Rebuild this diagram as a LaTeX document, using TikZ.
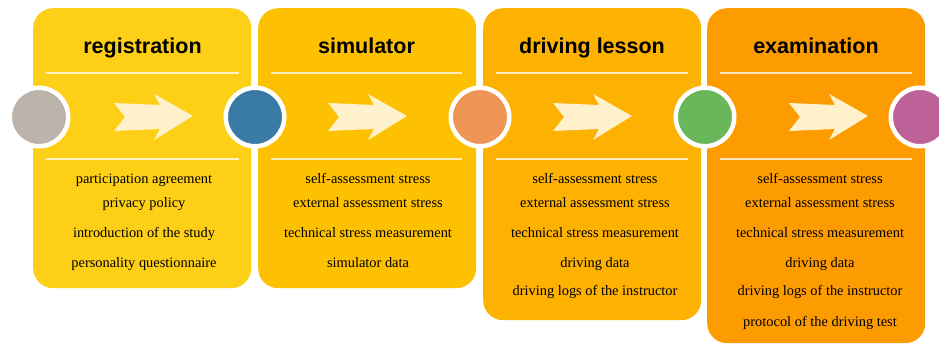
\documentclass[tikz,border=0pt]{standalone}
\usepackage{fontspec}
\setmainfont{Liberation Serif}
\setsansfont{Liberation Sans}
\definecolor{regyellow}{HTML}{FDD017}
\definecolor{simgold}{HTML}{FDC102}
\definecolor{lessonamber}{HTML}{FDB100}
\definecolor{examorange}{HTML}{FD9C00}
\definecolor{arrowcream}{HTML}{FFF1CC}
\definecolor{dotgray}{HTML}{BCB3AA}
\definecolor{dotblue}{HTML}{3A7BA6}
\definecolor{dotorange}{HTML}{EE9455}
\definecolor{dotgreen}{HTML}{6AB75B}
\definecolor{dotpurple}{HTML}{BD6299}
\begin{document}
\begin{tikzpicture}[x=1pt, y=-1pt,
  stage/.style = {rounded corners=20pt, anchor=north west, inner sep=0pt, minimum width=218pt},
  title/.style = {font=\sffamily\bfseries\fontsize{21.5}{24}\selectfont, anchor=base},
  item/.style = {font=\fontsize{14.4}{16}\selectfont, anchor=base},
  rule/.style = {draw=white, opacity=0.75, line width=1.6pt},
  dot/.style = {circle, draw=white, line width=4.5pt, minimum size=58.5pt, inner sep=0pt},
  pics/chevron/.style = {code={\fill[arrowcream] (-39,-14) -- (7,-12) -- (1,-23) -- (40,-1) -- (1,23) -- (7,12) -- (-39,14) -- (-28,0) -- cycle;}}]
  \useasboundingbox (0,0) rectangle (939,345);

  % the four stages
  \node[stage, fill=regyellow, minimum height=280pt] (reg) at (33,8) {};
  \node[stage, fill=simgold, minimum height=280pt] (sim) at (258,8) {};
  \node[stage, fill=lessonamber, minimum height=312pt] (les) at (483,8) {};
  \node[stage, fill=examorange, minimum height=335pt] (exa) at (707,8) {};

  % separators
  \draw[rule] (46,73) -- (239,73);
  \draw[rule] (46,159) -- (239,159);
  \draw[rule] (271,73) -- (462,73);
  \draw[rule] (271,159) -- (462,159);
  \draw[rule] (496,73) -- (688,73);
  \draw[rule] (496,159) -- (688,159);
  \draw[rule] (720,73) -- (912,73);
  \draw[rule] (720,159) -- (912,159);

  % arrows
  \pic at (153,117) {chevron};
  \pic at (367,117) {chevron};
  \pic at (592,117) {chevron};
  \pic at (828,117) {chevron};

  % milestones
  \node[dot, fill=dotgray] (m0) at (39,117) {};
  \node[dot, fill=dotblue] (m1) at (255,117) {};
  \node[dot, fill=dotorange] (m2) at (480,117) {};
  \node[dot, fill=dotgreen] (m3) at (705,117) {};
  \node[dot, fill=dotpurple] (m4) at (920,117) {};

  % titles
  \node[title] (reg-t) at (142.5,53) {registration};
  \node[title] (sim-t) at (366.5,53) {simulator};
  \node[title] (les-t) at (592,53) {driving lesson};
  \node[title] (exa-t) at (816,53) {examination};

  % registration
  \node[item] (reg-1) at (144,183) {participation agreement};
  \node[item] (reg-2) at (144,207) {privacy policy};
  \node[item] (reg-3) at (144,237) {introduction of the study};
  \node[item] (reg-4) at (144,267) {personality questionnaire};

  % simulator
  \node[item] (sim-1) at (368,183) {self-assessment stress};
  \node[item] (sim-2) at (368,207) {external assessment stress};
  \node[item] (sim-3) at (368,237) {technical stress measurement};
  \node[item] (sim-4) at (368,267) {simulator data};

  % driving lesson
  \node[item] (les-1) at (595,183) {self-assessment stress};
  \node[item] (les-2) at (595,207) {external assessment stress};
  \node[item] (les-3) at (595,237) {technical stress measurement};
  \node[item] (les-4) at (595,267) {driving data};
  \node[item] (les-5) at (595,295) {driving logs of the instructor};

  % examination
  \node[item] (exa-1) at (820,183) {self-assessment stress};
  \node[item] (exa-2) at (820,207) {external assessment stress};
  \node[item] (exa-3) at (820,237) {technical stress measurement};
  \node[item] (exa-4) at (820,267) {driving data};
  \node[item] (exa-5) at (820,295) {driving logs of the instructor};
  \node[item] (exa-6) at (820,326) {protocol of the driving test};
\end{tikzpicture}
\end{document}
